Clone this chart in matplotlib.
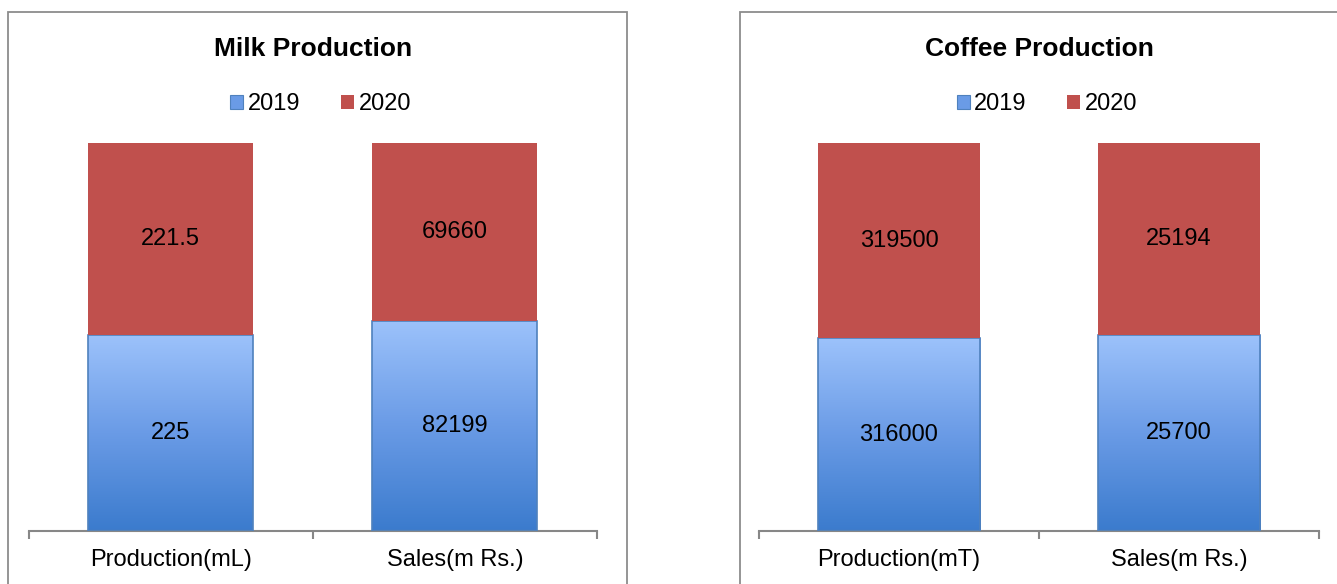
import numpy as np
import matplotlib
matplotlib.use("Agg")
import matplotlib.pyplot as plt
from matplotlib.patches import Rectangle
from matplotlib.colors import LinearSegmentedColormap

plt.rcParams['font.family'] = ['Liberation Sans', 'DejaVu Sans']

# data
milk_cats = ["Production(mL)", "Sales(m Rs.)"]
milk_2019 = [225, 82199]
milk_2020 = [221.5, 69660]
milk_lbl_2019 = ["225", "82199"]
milk_lbl_2020 = ["221.5", "69660"]

coffee_cats = ["Production(mT)", "Sales(m Rs.)"]
coffee_2019 = [316000, 25700]
coffee_2020 = [319500, 25194]
coffee_lbl_2019 = ["316000", "25700"]
coffee_lbl_2020 = ["319500", "25194"]

series_names = ["2019", "2020"]

RED = "#C0504D"
BLUE_EDGE = "#4F81BD"
blue_grad = LinearSegmentedColormap.from_list("bg", ["#3B7BCD", "#6A9BE6", "#9CC2FB"])

W, H = 1337, 584
fig = plt.figure(figsize=(W / 100, H / 100), dpi=100)

# panel borders (pixel coords -> figure fraction)
def px_rect(x0, y0, x1, y1):
    return Rectangle((x0 / W, 1 - y1 / H), (x1 - x0) / W, (y1 - y0) / H,
                     transform=fig.transFigure, fill=False, edgecolor="#8C8C8C", lw=1.3)

fig.patches.append(px_rect(8, 12, 627, 600))
fig.patches.append(px_rect(740, 12, 1360, 600))


def draw_panel(left_px, right_px, title, cats, v19, v20, l19, l20):
    ax = fig.add_axes([left_px / W, 53 / H, (right_px - left_px) / W, 388 / H])
    v19 = np.array(v19, dtype=float)
    v20 = np.array(v20, dtype=float)
    tot = v19 + v20
    p19 = v19 / tot
    p20 = v20 / tot
    x = np.arange(len(cats))
    width = 0.58

    bars19 = ax.bar(x, p19, width, color="none", edgecolor=BLUE_EDGE, lw=1.2, zorder=3)
    ax.bar(x, p20, width, bottom=p19, color=RED, edgecolor="none", zorder=3)

    grad = np.linspace(0, 1, 256).reshape(-1, 1)
    for b in bars19:
        im = ax.imshow(grad, cmap=blue_grad, aspect="auto", origin="lower",
                       extent=(b.get_x(), b.get_x() + b.get_width(), 0, b.get_height()),
                       zorder=2)
        im.set_clip_path(b)

    for i in range(len(cats)):
        ax.text(x[i], p19[i] / 2, l19[i], ha="center", va="center", fontsize=17, zorder=4)
        ax.text(x[i], p19[i] + p20[i] / 2, l20[i], ha="center", va="center", fontsize=17, zorder=4)

    ax.set_xlim(-0.5, len(cats) - 0.5)
    ax.set_ylim(0, 1)
    for s in ["left", "right", "top"]:
        ax.spines[s].set_visible(False)
    ax.spines["bottom"].set_color("#878787")
    ax.spines["bottom"].set_linewidth(1.5)
    ax.set_yticks([])
    ax.set_xticks(x)
    ax.set_xticklabels(cats, fontsize=17)
    ax.tick_params(axis="x", which="major", length=0, pad=13)
    ax.set_xticks(np.arange(-0.5, len(cats)), minor=True)
    ax.tick_params(axis="x", which="minor", length=6, width=1.5, color="#878787")

    ax.text(0.5, 1.243, title, transform=ax.transAxes, ha="center", va="center",
            fontsize=19, fontweight="bold")

    h1 = Rectangle((0, 0), 1, 1, facecolor="#6A9BE6", edgecolor=BLUE_EDGE, lw=0.8)
    h2 = Rectangle((0, 0), 1, 1, facecolor=RED, edgecolor="none")
    ax.legend([h1, h2], series_names, ncol=2, loc="center",
              bbox_to_anchor=(0.514, 1.10), frameon=False, fontsize=17,
              handlelength=0.55, handleheight=0.55, handletextpad=0.2,
              columnspacing=1.7)
    return ax


draw_panel(28.6, 597, "Milk Production", milk_cats, milk_2019, milk_2020,
           milk_lbl_2019, milk_lbl_2020)
draw_panel(759, 1319, "Coffee Production", coffee_cats, coffee_2019, coffee_2020,
           coffee_lbl_2019, coffee_lbl_2020)

fig.savefig("out.png", dpi=100)
